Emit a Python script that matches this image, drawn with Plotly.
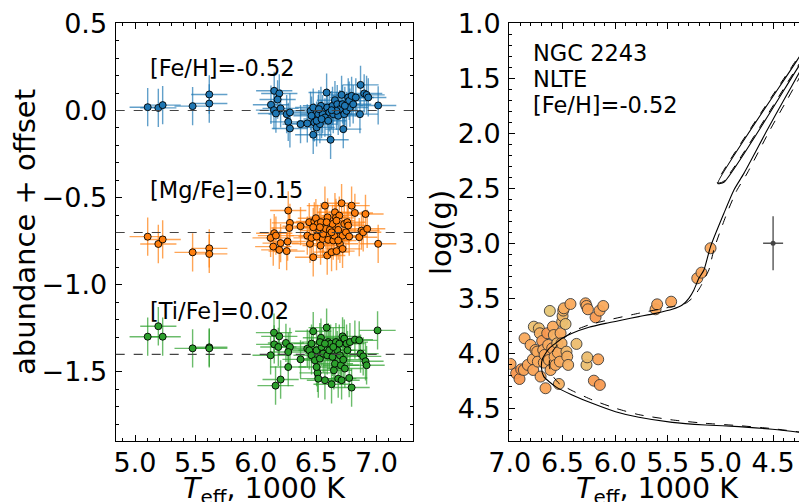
import plotly.graph_objects as go

# ---------------- data: left panel (Teff in 1000 K, abundance + offset) ----------------
fe_teff = [5.105, 5.193, 5.229, 5.477, 5.615, 5.615,
           6.153, 6.195, 6.181, 6.126, 6.151, 6.167, 6.206, 6.256, 6.283, 6.269,
           6.283, 6.371, 6.427, 6.454, 6.476, 6.462, 6.485, 6.476, 6.504, 6.518,
           6.531, 6.540, 6.554, 6.587, 6.592, 6.609, 6.636, 6.642, 6.656, 6.675,
           6.683, 6.697, 6.711, 6.719, 6.725, 6.733, 6.752, 6.766, 6.774, 6.780,
           6.794, 6.807, 6.829, 6.863, 6.868, 6.898, 6.918, 6.932, 7.014, 6.620,
           6.504, 6.573, 6.669, 6.628, 6.545, 6.600, 6.523, 6.738]
fe_val = [0.019, 0.015, 0.031, 0.025, 0.040, 0.092,
          0.113, 0.098, 0.063, 0.033, 0.002, -0.017, 0.012, -0.021, -0.011, -0.065,
          -0.103, -0.078, -0.074, -0.002, 0.017, -0.030, -0.068, -0.139, -0.097, -0.021,
          -0.078, 0.027, -0.021, 0.103, 0.017, -0.011, 0.027, -0.021, 0.059, 0.036,
          -0.030, 0.008, 0.090, 0.036, -0.107, -0.021, -0.002, 0.075, 0.056, 0.017,
          0.084, 0.036, 0.075, -0.021, 0.147, 0.098, 0.090, 0.075, 0.029, -0.168,
          -0.059, -0.040, -0.002, 0.002, -0.049, -0.059, 0.008, 0.027]

mg_teff = [5.105, 5.193, 5.229, 5.477, 5.615, 5.615,
           6.269, 6.283, 6.278, 6.371, 6.153, 6.123, 6.145, 6.167, 6.195, 6.206,
           6.256, 6.264, 6.427, 6.449, 6.462, 6.443, 6.476, 6.485, 6.498, 6.512,
           6.526, 6.537, 6.540, 6.554, 6.559, 6.573, 6.581, 6.595, 6.592, 6.600,
           6.614, 6.628, 6.636, 6.642, 6.650, 6.656, 6.664, 6.669, 6.683, 6.692,
           6.697, 6.711, 6.719, 6.719, 6.733, 6.747, 6.758, 6.766, 6.774, 6.794,
           6.821, 6.857, 6.876, 6.890, 6.909, 6.923, 7.014, 6.683, 6.628, 6.531,
           6.476, 6.504, 6.587, 6.669]
mg_val = [-0.724, -0.766, -0.740, -0.814, -0.791, -0.823,
          -0.574, -0.645, -0.674, -0.664, -0.704, -0.731, -0.781, -0.718, -0.800, -0.761,
          -0.807, -0.752, -0.718, -0.765, -0.731, -0.641, -0.842, -0.636, -0.618, -0.651,
          -0.689, -0.775, -0.641, -0.737, -0.708, -0.546, -0.679, -0.613, -0.832, -0.742,
          -0.685, -0.813, -0.651, -0.746, -0.718, -0.584, -0.616, -0.807, -0.685, -0.603,
          -0.765, -0.532, -0.718, -0.794, -0.651, -0.699, -0.641, -0.660, -0.723, -0.546,
          -0.588, -0.727, -0.689, -0.699, -0.594, -0.679, -0.765, -0.746, -0.699, -0.670,
          -0.670, -0.723, -0.641, -0.632]

ti_teff = [5.105, 5.193, 5.229, 5.477, 5.615, 5.615,
           6.151, 6.195, 6.153, 6.187, 6.250, 6.283, 6.269, 6.123, 6.269, 6.206,
           6.164, 6.371, 6.427, 6.443, 6.462, 6.476, 6.490, 6.504, 6.512, 6.518,
           6.531, 6.540, 6.545, 6.559, 6.573, 6.587, 6.592, 6.600, 6.609, 6.620,
           6.628, 6.636, 6.647, 6.656, 6.664, 6.675, 6.683, 6.692, 6.697, 6.705,
           6.711, 6.719, 6.725, 6.733, 6.738, 6.752, 6.760, 6.774, 6.780, 6.794,
           6.821, 6.857, 6.868, 6.890, 6.909, 6.918, 7.009, 6.531, 6.573, 6.642,
           6.462, 6.504]
ti_val = [-1.298, -1.238, -1.298, -1.365, -1.359, -1.365,
          -1.275, -1.296, -1.342, -1.357, -1.334, -1.357, -1.386, -1.405, -1.472, -1.544,
          -1.579, -1.428, -1.367, -1.376, -1.405, -1.267, -1.434, -1.376, -1.506, -1.539,
          -1.424, -1.304, -1.357, -1.395, -1.548, -1.246, -1.405, -1.329, -1.376, -1.338,
          -1.571, -1.414, -1.491, -1.453, -1.329, -1.376, -1.539, -1.338, -1.405, -1.462,
          -1.548, -1.296, -1.430, -1.309, -1.481, -1.338, -1.376, -1.535, -1.329, -1.590,
          -1.315, -1.319, -1.395, -1.411, -1.439, -1.462, -1.262, -1.329, -1.338, -1.357,
          -1.338, -1.472]

fe_label = "[Fe/H]=-0.52"
mg_label = "[Mg/Fe]=0.15"
ti_label = "[Ti/Fe]=0.02"
ref_levels = [0.0, -0.70, -1.40]
teff_err = 0.15
abund_err = 0.11

# ---------------- data: right panel (Kiel diagram) ----------------
hr_teff = [6.993, 6.940, 6.908, 6.892, 6.867, 6.860, 6.829, 6.803, 6.781, 6.772,
           6.778, 6.756, 6.740, 6.724, 6.715, 6.734, 6.708, 6.693, 6.683, 6.677,
           6.670, 6.661, 6.645, 6.636, 6.629, 6.620, 6.613, 6.598, 6.591, 6.582,
           6.575, 6.566, 6.550, 6.544, 6.534, 6.525, 6.518, 6.509, 6.503, 6.499,
           6.493, 6.487, 6.471, 6.462, 6.455, 6.446, 6.424, 6.367, 6.281, 6.272,
           6.259, 6.272, 6.265, 6.202, 6.186, 6.161, 6.148, 6.145, 6.113, 5.616,
           5.601, 5.468, 5.220, 5.180, 5.094]
hr_logg = [4.097, 4.182, 4.234, 4.146, 4.152, 3.864, 4.106, 3.924, 4.055, 3.758,
           4.152, 3.970, 3.985, 3.773, 3.818, 4.076, 4.212, 3.888, 3.970, 4.085,
           4.015, 4.318, 3.818, 3.924, 4.061, 3.615, 4.152, 3.955, 3.758, 3.834,
           4.030, 4.106, 3.909, 3.994, 4.279, 4.076, 3.818, 3.909, 3.712, 3.661,
           3.612, 3.591, 3.734, 3.985, 4.030, 4.106, 3.552, 3.915, 3.546, 3.570,
           3.600, 4.106, 4.037, 4.249, 3.673, 4.055, 3.612, 4.288, 3.570, 3.600,
           3.555, 3.531, 3.318, 3.267, 3.045]
hr_cval = [0.6, 0.8, 0.8, 0.8, 0.6, 0.5, 0.6, 0.5, 0.5, 0.15,
           0.6, 0.5, 0.5, 0.2, 0.4, 0.5, 0.6, 0.7, 0.5, 0.5,
           0.6, 0.6, 0.8, 0.5, 0.5, 0.05, 0.5, 0.6, 0.5, 0.4,
           0.5, 0.5, 0.3, 0.5, 0.4, 0.5, 0.5, 0.4, 0.35, 0.3,
           0.35, 0.45, 0.15, 0.3, 0.4, 0.4, 0.5, 0.2, 0.55, 0.55,
           0.6, 0.15, 0.2, 0.7, 0.75, 0.6, 0.6, 0.75, 0.5, 0.55,
           0.6, 0.6, 0.6, 0.6, 0.55]

iso_solid_teff = [4.20, 4.255, 4.508, 4.825, 5.142, 5.458, 5.775, 5.996, 6.218, 6.408,
                  6.566, 6.677, 6.70, 6.69, 6.63, 6.56, 6.503, 6.408, 6.249, 6.091,
                  5.933, 5.775, 5.616, 5.458, 5.363, 5.300, 5.252, 5.205, 5.157, 5.094,
                  4.967, 4.872, 4.777, 4.556, 4.398, 4.255, 4.0, 3.9, 4.0, 4.271,
                  5.025, 4.968, 4.249, 4.0]
iso_solid_logg = [4.725, 4.718, 4.691, 4.667, 4.652, 4.628, 4.582, 4.531, 4.455, 4.379,
                  4.303, 4.212, 4.13, 4.05, 3.96, 3.905, 3.864, 3.818, 3.764, 3.728,
                  3.697, 3.667, 3.637, 3.600, 3.561, 3.500, 3.424, 3.318, 3.243, 3.03,
                  2.727, 2.515, 2.364, 1.970, 1.697, 1.455, 1.02, 0.80, 0.93, 1.334,
                  2.455, 2.445, 1.379, 1.01]
iso_dash_teff = [4.20, 4.255, 4.508, 4.825, 5.142, 5.458, 5.775, 5.996, 6.218, 6.408,
                 6.534, 6.598, 6.625, 6.62, 6.57, 6.50, 6.408, 6.249, 6.091, 5.775,
                 5.458, 5.331, 5.252, 5.189, 5.142, 5.110, 5.06, 4.94, 4.845, 4.75,
                 4.53, 4.37, 4.23, 3.98, 3.9, 4.0, 4.281, 5.03, 4.975, 4.259, 4.0]
iso_dash_logg = [4.722, 4.715, 4.685, 4.658, 4.637, 4.606, 4.558, 4.500, 4.424, 4.340,
                 4.273, 4.197, 4.12, 4.04, 3.95, 3.875, 3.803, 3.742, 3.703, 3.636,
                 3.576, 3.546, 3.485, 3.394, 3.303, 3.243, 3.05, 2.73, 2.52, 2.37,
                 1.97, 1.70, 1.46, 1.02, 0.80, 0.93, 1.334, 2.45, 2.44, 1.379, 1.01]

cluster_lines = ["NGC 2243", "NLTE", "[Fe/H]=-0.52"]
err_teff = [4.5]
err_logg = [3.0]
err_cross_teff = 0.095
err_cross_logg = 0.245

# ---------------- figure ----------------
W, H = 799, 502
FONT = "DejaVu Sans"
L_DOM = [115.7 / W, 412.7 / W]
R_DOM = [509.3 / W, 1.0]
Y_DOM = [1 - 440.7 / H, 1 - 23.3 / H]

fig = go.Figure()

series = [
    (fe_teff, fe_val, "#1f77b4", "rgba(31,119,180,0.7)"),
    (mg_teff, mg_val, "#ff7f0e", "rgba(255,127,14,0.7)"),
    (ti_teff, ti_val, "#2ca02c", "rgba(44,160,44,0.7)"),
]
for tx, ty, col, ecol in series:
    fig.add_trace(go.Scatter(
        x=tx, y=ty, mode="markers", xaxis="x", yaxis="y",
        marker=dict(size=7, color=col, line=dict(color="black", width=0.9)),
        error_x=dict(type="constant", value=teff_err, color=ecol, thickness=1.4, width=0),
        error_y=dict(type="constant", value=abund_err, color=ecol, thickness=1.4, width=0),
        showlegend=False, hoverinfo="skip"))

fig.add_trace(go.Scatter(
    x=hr_teff, y=hr_logg, mode="markers", xaxis="x2", yaxis="y2",
    marker=dict(size=11, color=hr_cval, cmin=0, cmax=1,
                colorscale=[[0, "#E4CA7A"], [0.5, "#FAAA5C"], [1, "#F68A45"]],
                line=dict(color="#333333", width=0.9), opacity=0.95),
    showlegend=False, hoverinfo="skip"))

fig.add_trace(go.Scatter(
    x=iso_solid_teff, y=iso_solid_logg, mode="lines", xaxis="x2", yaxis="y2",
    line=dict(color="black", width=1.1, shape="spline", smoothing=0.6),
    showlegend=False, hoverinfo="skip"))
fig.add_trace(go.Scatter(
    x=iso_dash_teff, y=iso_dash_logg, mode="lines", xaxis="x2", yaxis="y2",
    line=dict(color="black", width=1.0, dash="dash", shape="spline", smoothing=0.6),
    showlegend=False, hoverinfo="skip"))

fig.add_trace(go.Scatter(
    x=err_teff, y=err_logg, mode="markers", xaxis="x2", yaxis="y2",
    marker=dict(size=5, color="#444444"),
    error_x=dict(type="constant", value=err_cross_teff, color="#555555", thickness=1.4, width=0),
    error_y=dict(type="constant", value=err_cross_logg, color="#555555", thickness=1.4, width=0),
    showlegend=False, hoverinfo="skip"))

for lvl in ref_levels:
    fig.add_shape(type="line", xref="x domain", yref="y", x0=0, x1=1, y0=lvl, y1=lvl,
                  line=dict(color="#444444", width=1.2, dash="dash"), layer="above")

tickfont = dict(family=FONT, size=27, color="black")
common = dict(showline=True, linecolor="black", linewidth=1.3, ticks="inside",
              ticklen=6, tickwidth=1, tickcolor="black", showgrid=False,
              zeroline=False, tickfont=tickfont, tickformat=".1f", automargin=False)
minor = dict(ticks="inside", ticklen=3, tickwidth=1, tickcolor="black", dtick=0.1, showgrid=False)

fig.update_layout(
    width=W, height=H, margin=dict(l=0, r=0, t=0, b=0, autoexpand=False),
    paper_bgcolor="white", plot_bgcolor="white",
    font=dict(family=FONT, color="black"),
    xaxis=dict(domain=L_DOM, range=[4.84, 7.30], dtick=0.5, tick0=5.0, mirror="allticks",
               anchor="y", minor=minor, ticklabelstandoff=-2, **common),
    yaxis=dict(domain=Y_DOM, range=[-1.895, 0.5005], dtick=0.5, tick0=0, mirror="allticks",
               anchor="x", minor=minor, ticklabelstandoff=2, **common),
    xaxis2=dict(domain=R_DOM, range=[7.005, 4.254], dtick=0.5, tick0=5.0, mirror="allticks",
                anchor="y2", minor=minor, ticklabelstandoff=-2, **common),
    yaxis2=dict(domain=Y_DOM, range=[4.795, 0.9995], dtick=0.5, tick0=1.0, mirror=False,
                anchor="x2", minor=minor, ticklabelstandoff=2, **common),
)

ann_font = dict(family=FONT, size=22.5, color="black")
for txt, yv in [(fe_label, 0.244), (mg_label, -0.455), (ti_label, -1.153)]:
    fig.add_annotation(x=5.11, y=yv, xref="x", yref="y", text=txt, showarrow=False,
                       xanchor="left", yanchor="middle", font=ann_font)

for i, txt in enumerate(cluster_lines):
    ypx = 53.3 + 26 * i
    fig.add_annotation(x=531 / W, y=1 - ypx / H, xref="paper", yref="paper", text=txt,
                       showarrow=False, xanchor="left", yanchor="middle", font=ann_font)

title_font = dict(family=FONT, size=29, color="black")
fig.add_annotation(x=25 / W, y=1 - 232 / H, xref="paper", yref="paper",
                   text="abundance + offset", textangle=-90, showarrow=False,
                   xanchor="center", yanchor="middle", font=title_font)
fig.add_annotation(x=441 / W, y=1 - 233 / H, xref="paper", yref="paper",
                   text="log(g)", textangle=-90, showarrow=False,
                   xanchor="center", yanchor="middle", font=title_font)
xt_font = dict(family=FONT, size=28.5, color="black")
for cx in [264 / W, 657.5 / W]:
    fig.add_annotation(x=cx, y=1 - 490 / H, xref="paper", yref="paper",
                       text="<i>T</i><sub>eff</sub>, 1000 K", showarrow=False,
                       xanchor="center", yanchor="middle", font=xt_font)

fig.write_html("out.html")
